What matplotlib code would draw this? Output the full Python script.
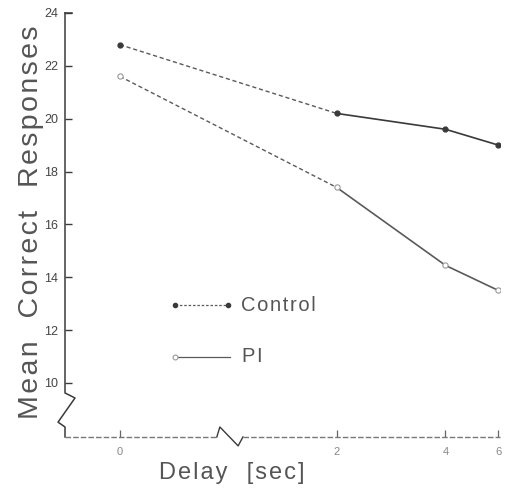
import numpy as np
import matplotlib
matplotlib.use("Agg")
import matplotlib.pyplot as plt

# data
delays = [0, 2, 4, 6]
control = [22.8, 20.2, 19.6, 19.0]
pi = [21.6, 17.4, 14.45, 13.5]
yticks = [10, 12, 14, 16, 18, 20, 22, 24]

plt.rcParams['font.family'] = ['Liberation Sans', 'DejaVu Sans']

# the original x axis is broken and unevenly spaced, so map delays through a piecewise scale
knots_x = [-1, 0, 2, 4, 6, 7]
knots_px = [11.5, 120, 337, 446, 499, 552]


def fwd(v):
    return np.interp(v, knots_x, knots_px)


def inv(v):
    return np.interp(v, knots_px, knots_x)


def spaced(s):
    # the lettering of the scan is loosely tracked
    return '\u200a'.join(s)


fig = plt.figure(figsize=(5.07, 4.9), dpi=100)
ax = fig.add_axes([0.1282, 0.1082, 0.858, 0.8653])
ax.set_xscale('function', functions=(fwd, inv))
ax.set_xlim(-0.507, 6.03)
ax.set_ylim(7.957, 24)

for s in ax.spines.values():
    s.set_visible(False)

dark = '#3a3a3a'
mid = '#5a5a5a'

# Control: dashed over the break, solid after
ax.plot(delays[:2], control[:2], color=mid, lw=1.0, ls=(0, (3, 2)))
ax.plot(delays[1:], control[1:], color=dark, lw=1.2)
ax.plot(delays, control, 'o', color=dark, ms=3.5, mec=dark)

# PI
ax.plot(delays[:2], pi[:2], color=mid, lw=1.0, ls=(0, (3, 2)))
ax.plot(delays[1:], pi[1:], color=mid, lw=1.2)
ax.plot(delays, pi, 'o', mfc='white', mec='#999999', ms=3.8, mew=0.8)

# axes lines with break marks
ax.plot([0, 0, 0.023, -0.016, 0, 0], [1, 0.1038, 0.092, 0.035, 0.0236, 0],
        transform=ax.transAxes, color=dark, lw=1.1, clip_on=False)
ax.plot([0, 0.349], [0, 0], transform=ax.transAxes, color='#777777', lw=1.0,
        ls=(0, (4, 1.5)), clip_on=False)
ax.plot([0.349, 0.356, 0.398, 0.409], [0, 0.0236, -0.021, 0],
        transform=ax.transAxes, color=dark, lw=1.0, clip_on=False)
ax.plot([0.409, 1.0], [0, 0], transform=ax.transAxes, color='#777777', lw=1.0,
        ls=(0, (4, 1.5)), clip_on=False)
ax.plot([0, 0.015], [1, 1], transform=ax.transAxes, color=dark, lw=1.1, clip_on=False)

ax.set_yticks(yticks)
ax.set_yticklabels([str(t) for t in yticks])
ax.set_xticks(delays)
ax.set_xticklabels([str(d) for d in delays])
ax.tick_params(axis='y', direction='in', length=5, width=1.0, color=dark,
               labelsize=9, labelcolor='#444444', pad=5)
ax.tick_params(axis='x', direction='in', length=5, width=0.9, color='#666666',
               labelsize=8, labelcolor='#888888', pad=7)

# legend drawn by hand like the original
ax.plot([0.253, 0.375], [0.311, 0.311], transform=ax.transAxes, color=mid,
        lw=0.9, ls=(0, (2, 1.5)), marker='o', ms=3, mfc=dark, mec=dark)
ax.text(0.405, 0.311, spaced('Control'), transform=ax.transAxes, fontsize=14.5,
        color='#555555', va='center', ha='left')
ax.plot([0.253, 0.379], [0.189, 0.189], transform=ax.transAxes, color=mid, lw=0.9)
ax.plot([0.253], [0.189], transform=ax.transAxes, marker='o', ms=3.5,
        mfc='white', mec='#999999', mew=0.8)
ax.text(0.407, 0.189, spaced('PI'), transform=ax.transAxes, fontsize=14.5,
        color='#555555', va='center', ha='left')

fig.text(0.062, 0.547, spaced('Mean  Correct  Responses'), rotation=90, fontsize=20.5,
         color='#555555', ha='center', va='center')
fig.text(0.458, 0.035, spaced('Delay  [sec]'), fontsize=17, color='#555555',
         ha='center', va='center')

fig.savefig('out.png', dpi=100)
